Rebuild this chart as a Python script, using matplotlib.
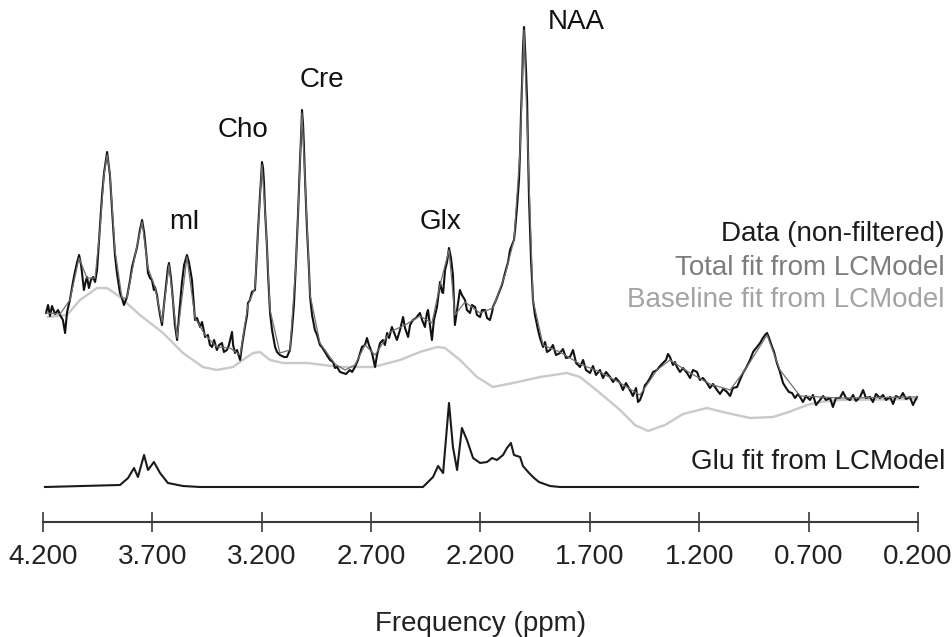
import matplotlib
matplotlib.use("Agg")
import matplotlib.pyplot as plt
import numpy as np

# ---------------- data (ppm, intensity in a.u.) ----------------
data_ppm = [4.186, 4.177, 4.168, 4.159, 4.145, 4.131, 4.122, 4.109, 4.099, 4.090, 4.077, 4.063, 4.054, 4.045,
            4.035, 4.026, 4.022, 4.013, 4.003, 3.999, 3.990, 3.981, 3.971, 3.962, 3.953, 3.939, 3.930, 3.921,
            3.907, 3.898, 3.894, 3.880, 3.871, 3.862, 3.848, 3.839, 3.830, 3.816, 3.802, 3.793, 3.779, 3.770,
            3.757, 3.747, 3.738, 3.734, 3.725, 3.720, 3.711, 3.702, 3.693, 3.688, 3.679, 3.674, 3.665, 3.656,
            3.647, 3.638, 3.629, 3.624, 3.615, 3.606, 3.597, 3.587, 3.578, 3.565, 3.555, 3.542, 3.533, 3.519,
            3.510, 3.505, 3.496, 3.482, 3.473, 3.459, 3.446, 3.437, 3.427, 3.418, 3.405, 3.395, 3.382, 3.373,
            3.359, 3.350, 3.336, 3.331, 3.322, 3.313, 3.299, 3.290, 3.277, 3.267, 3.263, 3.254, 3.245, 3.231,
            3.226, 3.217, 3.208, 3.203, 3.199, 3.194, 3.190, 3.185, 3.176, 3.171, 3.162, 3.153, 3.139, 3.130,
            3.117, 3.098, 3.085, 3.071, 3.062, 3.053, 3.043, 3.034, 3.025, 3.021, 3.016, 3.011, 3.007, 3.002,
            2.993, 2.984, 2.979, 2.970, 2.957, 2.947, 2.934, 2.925, 2.911, 2.897, 2.888, 2.874, 2.865, 2.856,
            2.842, 2.829, 2.815, 2.797, 2.787, 2.774, 2.760, 2.742, 2.728, 2.719, 2.710, 2.696, 2.687, 2.682,
            2.673, 2.659, 2.646, 2.637, 2.627, 2.618, 2.605, 2.591, 2.582, 2.568, 2.554, 2.545, 2.531, 2.522,
            2.509, 2.495, 2.477, 2.467, 2.454, 2.445, 2.440, 2.431, 2.422, 2.413, 2.399, 2.385, 2.376, 2.371,
            2.362, 2.353, 2.344, 2.335, 2.326, 2.317, 2.307, 2.294, 2.285, 2.271, 2.262, 2.248, 2.239, 2.225,
            2.216, 2.202, 2.193, 2.179, 2.170, 2.157, 2.147, 2.143, 2.129, 2.111, 2.102, 2.088, 2.074, 2.065,
            2.056, 2.047, 2.042, 2.033, 2.024, 2.019, 2.015, 2.010, 2.006, 2.001, 1.997, 1.992, 1.987, 1.983,
            1.978, 1.969, 1.960, 1.951, 1.937, 1.928, 1.914, 1.905, 1.896, 1.882, 1.869, 1.855, 1.837, 1.823,
            1.809, 1.791, 1.777, 1.763, 1.745, 1.731, 1.718, 1.699, 1.686, 1.672, 1.654, 1.640, 1.626, 1.608,
            1.594, 1.581, 1.562, 1.549, 1.535, 1.517, 1.503, 1.489, 1.480, 1.471, 1.457, 1.448, 1.439, 1.425,
            1.411, 1.393, 1.379, 1.366, 1.352, 1.343, 1.334, 1.320, 1.311, 1.302, 1.288, 1.274, 1.256, 1.242,
            1.229, 1.210, 1.197, 1.183, 1.165, 1.151, 1.137, 1.119, 1.105, 1.091, 1.073, 1.059, 1.046, 1.027,
            1.014, 1.000, 0.986, 0.968, 0.954, 0.936, 0.922, 0.909, 0.899, 0.890, 0.881, 0.867, 0.858, 0.845,
            0.831, 0.817, 0.803, 0.790, 0.776, 0.762, 0.749, 0.739, 0.726, 0.712, 0.694, 0.680, 0.666, 0.648,
            0.634, 0.621, 0.602, 0.589, 0.575, 0.557, 0.543, 0.529, 0.511, 0.497, 0.483, 0.465, 0.451, 0.438,
            0.419, 0.406, 0.392, 0.374, 0.360, 0.346, 0.328, 0.314, 0.301, 0.282, 0.269, 0.255, 0.237, 0.223,
            0.205]
data_val = [209, 217, 206, 216, 208, 212, 207, 202, 189, 210, 222, 240, 250, 259,
            267, 257, 250, 232, 242, 245, 234, 242, 245, 240, 252, 297, 327, 349,
            370, 354, 347, 297, 267, 249, 229, 224, 217, 225, 242, 255, 267, 275,
            292, 302, 290, 282, 262, 249, 244, 242, 232, 235, 227, 219, 207, 197,
            217, 235, 254, 259, 244, 222, 197, 182, 207, 239, 257, 267, 260, 242,
            217, 202, 204, 195, 200, 185, 187, 177, 175, 182, 172, 177, 179, 170,
            172, 177, 190, 177, 169, 172, 162, 177, 195, 207, 219, 222, 230, 232,
            252, 292, 327, 344, 360, 354, 340, 312, 275, 247, 209, 192, 175, 170,
            167, 165, 165, 172, 192, 217, 262, 309, 362, 382, 412, 397, 375, 342,
            292, 252, 225, 207, 192, 187, 177, 175, 170, 165, 162, 160, 154, 155,
            150, 149, 148, 152, 150, 155, 162, 175, 177, 184, 177, 169, 160, 155,
            167, 179, 182, 177, 189, 184, 195, 187, 182, 192, 205, 194, 185, 197,
            202, 204, 209, 202, 195, 209, 212, 197, 182, 202, 215, 240, 230, 229,
            252, 260, 274, 264, 247, 197, 212, 232, 227, 222, 212, 209, 217, 215,
            207, 205, 212, 212, 204, 202, 210, 215, 222, 232, 237, 249, 260, 272,
            277, 282, 292, 315, 342, 372, 407, 439, 472, 495, 477, 452, 422, 372,
            322, 262, 222, 207, 192, 184, 175, 180, 170, 172, 177, 167, 169, 173,
            164, 165, 172, 159, 155, 162, 152, 149, 156, 147, 152, 144, 150, 145,
            140, 144, 139, 132, 139, 132, 126, 134, 120, 122, 130, 137, 139, 144,
            150, 152, 156, 159, 162, 168, 165, 157, 160, 155, 150, 154, 149, 144,
            152, 150, 142, 144, 139, 134, 138, 132, 128, 133, 130, 126, 134, 135,
            142, 149, 154, 162, 170, 175, 179, 184, 187, 189, 184, 175, 170, 159,
            150, 139, 134, 130, 129, 124, 128, 125, 120, 126, 122, 127, 117, 122,
            126, 122, 124, 115, 124, 124, 130, 124, 122, 127, 121, 125, 132, 124,
            125, 120, 128, 124, 127, 122, 125, 118, 126, 124, 129, 123, 125, 117,
            125]

fit_ppm = [4.186, 4.122, 4.077, 4.035, 3.999, 3.962, 3.939, 3.921, 3.907, 3.894, 3.871, 3.839, 3.816,
           3.779, 3.747, 3.720, 3.688, 3.656, 3.624, 3.587, 3.542, 3.505, 3.459, 3.405, 3.345, 3.299,
           3.263, 3.231, 3.217, 3.199, 3.181, 3.162, 3.117, 3.071, 3.043, 3.016, 2.998, 2.979, 2.934,
           2.865, 2.819, 2.774, 2.728, 2.682, 2.614, 2.545, 2.477, 2.422, 2.385, 2.344, 2.317, 2.271,
           2.202, 2.143, 2.088, 2.047, 2.019, 2.001, 1.983, 1.960, 1.914, 1.837, 1.745, 1.654, 1.562,
           1.471, 1.393, 1.334, 1.242, 1.151, 1.059, 0.991, 0.890, 0.831, 0.739, 0.557, 0.205]
fit_val = [209, 208, 222, 264, 244, 244, 294, 347, 367, 349, 272, 224, 224,
           267, 300, 254, 235, 200, 257, 184, 265, 204, 187, 175, 174, 167,
           217, 234, 290, 357, 297, 212, 169, 172, 260, 409, 322, 227, 179,
           158, 152, 157, 177, 167, 190, 197, 206, 199, 237, 272, 207, 220,
           209, 214, 247, 282, 372, 492, 372, 222, 177, 170, 158, 150, 139,
           127, 152, 162, 149, 138, 132, 152, 187, 152, 126, 124, 125]

base_ppm = [4.177, 4.090, 4.031, 3.953, 3.907, 3.848, 3.757, 3.651, 3.560, 3.469, 3.405, 3.331, 3.267,
            3.240, 3.208, 3.162, 3.103, 2.993, 2.842, 2.691, 2.568, 2.477, 2.399, 2.362, 2.294, 2.216,
            2.143, 2.051, 1.928, 1.805, 1.745, 1.654, 1.562, 1.494, 1.434, 1.357, 1.274, 1.165, 1.073,
            0.968, 0.863, 0.790, 0.707, 0.648, 0.557, 0.205]
base_val = [205, 207, 222, 234, 234, 225, 207, 189, 169, 155, 152, 155, 165,
            169, 170, 162, 159, 159, 155, 155, 162, 170, 175, 174, 162, 145,
            135, 139, 145, 149, 145, 129, 112, 97, 91, 97, 108, 114, 109,
            104, 105, 110, 117, 120, 122, 123]

glu_ppm = [4.191, 3.848, 3.811, 3.784, 3.766, 3.738, 3.720, 3.693, 3.665, 3.629, 3.560, 3.482,
           2.463, 2.417, 2.394, 2.371, 2.344, 2.326, 2.307, 2.285, 2.262, 2.234, 2.202, 2.170,
           2.147, 2.125, 2.097, 2.079, 2.061, 2.047, 2.019, 2.006, 1.978, 1.955, 1.933, 1.882,
           1.837, 0.200]
glu_val = [0, 2, 9, 19, 10, 32, 17, 25, 14, 4, 1, 0,
           0, 10, 21, 14, 84, 40, 17, 59, 47, 29, 24, 25,
           29, 27, 32, 39, 44, 32, 30, 21, 14, 9, 5, 1,
           0, 0]
glu_offset = 35

tick_ppm = [4.2, 3.7, 3.2, 2.7, 2.2, 1.7, 1.2, 0.7, 0.2]
tick_labels = ["4.200", "3.700", "3.200", "2.700", "2.200", "1.700", "1.200", "0.700", "0.200"]

peak_labels = ["NAA", "Cre", "Cho", "mI", "Glx"]
peak_label_ppm = [1.763, 2.925, 3.286, 3.551, 2.381]
peak_label_val = [500, 442, 392, 300, 300]

legend_texts = ["Data (non-filtered)", "Total fit from LCModel", "Baseline fit from LCModel",
                "Glu fit from LCModel"]
legend_colors = ["#1c1c1c", "#7d7d7d", "#a3a3a3", "#1c1c1c"]
legend_val = [288, 254, 222, 60]

# ---------------- figure ----------------
plt.rcParams['font.family'] = ['Liberation Sans', 'DejaVu Sans']
W, H = 953, 637
fig = plt.figure(figsize=(W / 100, H / 100), dpi=100)
ax = fig.add_axes([43 / W, (H - 522) / H, 875 / W, 522 / H])
ax.set_xlim(4.2, 0.2)
ax.set_ylim(0, 522)
ax.patch.set_alpha(0)

ax.plot(base_ppm, base_val, color="#c9c9c9", lw=1.7, clip_on=False, zorder=2)
ax.plot(data_ppm, data_val, color="#111111", lw=1.5, clip_on=False, zorder=3)
ax.plot(fit_ppm, fit_val, color="#707070", lw=0.9, clip_on=False, zorder=4)
ax.plot(glu_ppm, np.array(glu_val) + glu_offset, color="#1a1a1a", lw=1.5, clip_on=False, zorder=3)

for lab, xp, yv in zip(peak_labels, peak_label_ppm, peak_label_val):
    ax.text(xp, yv, lab, ha="center", va="center", fontsize=20, color="#111111")

for lab, col, yv in zip(legend_texts, legend_colors, legend_val):
    ax.text(0.077, yv, lab, ha="right", va="center", fontsize=20, color=col, clip_on=False)

for s in ["left", "right", "top"]:
    ax.spines[s].set_visible(False)
ax.spines["bottom"].set_color("#3a3a3a")
ax.spines["bottom"].set_linewidth(1.5)
ax.set_yticks([])
ax.set_xticks(tick_ppm)
ax.set_xticklabels(tick_labels)
ax.tick_params(axis="x", direction="inout", length=15, width=1.2, color="#3a3a3a",
               labelsize=20, labelcolor="#222222", pad=8)
ax.set_xlabel("Frequency (ppm)", fontsize=20, color="#222222", labelpad=30)

fig.savefig("out.png", dpi=100)
